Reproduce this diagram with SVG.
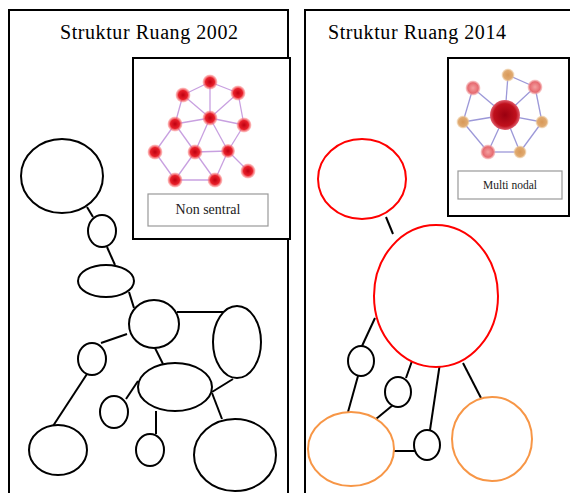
<svg xmlns="http://www.w3.org/2000/svg" width="570" height="493" viewBox="0 0 570 493">
<style>
.frame{fill:none;stroke:#000;stroke-width:2}
.inset{fill:#fff;stroke:#000;stroke-width:2}
.n{fill:#fff;stroke:#000;stroke-width:2}
.r{fill:#fff;stroke:#ff0000;stroke-width:2}
.o{fill:#fff;stroke:#f79646;stroke-width:2}
.c line{stroke:#000;stroke-width:2}
.title{font-family:"Liberation Serif",serif;font-size:20px;fill:#000}
.lab{fill:#fff;stroke:#999;stroke-width:1.2}
.labt{font-family:"Liberation Serif",serif;fill:#222;text-anchor:middle}
.e1 line{stroke:#c8a0e0;stroke-width:1.3}
.e2 line{stroke:#9c98d8;stroke-width:1.3}
</style>
<defs>
<radialGradient id="gr"><stop offset="0" stop-color="#c00010"/><stop offset="0.6" stop-color="#e8202a"/><stop offset="1" stop-color="#f88" stop-opacity="0.4"/></radialGradient>
<radialGradient id="gbig"><stop offset="0" stop-color="#9a0010"/><stop offset="0.75" stop-color="#c0101c"/><stop offset="1" stop-color="#e06070"/></radialGradient>
<radialGradient id="gpk"><stop offset="0" stop-color="#f4a0a0"/><stop offset="0.7" stop-color="#e66a70"/><stop offset="1" stop-color="#f6b0b0" stop-opacity="0.5"/></radialGradient>
<radialGradient id="gtn"><stop offset="0" stop-color="#d89858"/><stop offset="0.7" stop-color="#e0aa70"/><stop offset="1" stop-color="#f0d0a8" stop-opacity="0.5"/></radialGradient>
</defs>
<rect width="570" height="493" fill="#fff"/>

<!-- frames -->
<g id="frame2002"><path class="frame" d="M9,500 V10 H288 V500"/>
<text class="title" x="60" y="39" textLength="178">Struktur Ruang 2002</text></g>
<g id="frame2014"><path class="frame" d="M305,500 V10 H580"/>
<text class="title" x="328" y="39" textLength="178">Struktur Ruang 2014</text></g>

<!-- inset 2002 -->
<g id="inset2002">
<rect class="inset" x="133" y="58" width="157" height="181"/>
<g class="e1">
<line x1="210" y1="82" x2="183" y2="95"/><line x1="210" y1="82" x2="238" y2="93"/><line x1="210" y1="82" x2="210" y2="118"/>
<line x1="183" y1="95" x2="210" y2="118"/><line x1="238" y1="93" x2="210" y2="118"/><line x1="183" y1="95" x2="175" y2="124"/>
<line x1="238" y1="93" x2="244" y2="125"/><line x1="210" y1="118" x2="175" y2="124"/><line x1="210" y1="118" x2="244" y2="125"/>
<line x1="210" y1="118" x2="195" y2="152"/><line x1="210" y1="118" x2="228" y2="151"/><line x1="175" y1="124" x2="155" y2="152"/>
<line x1="175" y1="124" x2="195" y2="152"/><line x1="244" y1="125" x2="228" y2="151"/><line x1="195" y1="152" x2="228" y2="151"/>
<line x1="155" y1="152" x2="175" y2="180"/><line x1="195" y1="152" x2="175" y2="180"/><line x1="195" y1="152" x2="215" y2="180"/>
<line x1="175" y1="180" x2="215" y2="180"/><line x1="228" y1="151" x2="248" y2="171"/><line x1="228" y1="151" x2="215" y2="180"/>
</g>
<g fill="url(#gr)">
<circle cx="210" cy="82" r="7.5"/><circle cx="183" cy="95" r="7.5"/><circle cx="238" cy="93" r="7.5"/><circle cx="210" cy="118" r="7.5"/>
<circle cx="175" cy="124" r="7.5"/><circle cx="244" cy="125" r="7.5"/><circle cx="155" cy="152" r="7.5"/><circle cx="195" cy="152" r="7.5"/>
<circle cx="228" cy="151" r="7"/><circle cx="175" cy="180" r="7.5"/><circle cx="215" cy="180" r="7.5"/><circle cx="248" cy="171" r="7.5"/>
</g>
<rect class="lab" x="148" y="194" width="120" height="32"/>
<text class="labt" x="208" y="214" font-size="14">Non sentral</text>
</g>

<!-- inset 2014 -->
<g id="inset2014">
<rect class="inset" x="448" y="58" width="121" height="158"/>
<g class="e2">
<line x1="505" y1="115" x2="508" y2="75"/><line x1="505" y1="115" x2="473" y2="88"/><line x1="505" y1="115" x2="535" y2="87"/>
<line x1="505" y1="115" x2="463" y2="122"/><line x1="505" y1="115" x2="542" y2="122"/><line x1="505" y1="115" x2="488" y2="152"/>
<line x1="505" y1="115" x2="520" y2="152"/><line x1="508" y1="75" x2="535" y2="87"/><line x1="473" y1="88" x2="463" y2="122"/>
<line x1="463" y1="122" x2="488" y2="152"/><line x1="488" y1="152" x2="520" y2="152"/><line x1="520" y1="152" x2="542" y2="122"/>
<line x1="535" y1="87" x2="542" y2="122"/>
</g>
<circle cx="505" cy="115" r="15" fill="url(#gbig)"/>
<g fill="url(#gpk)"><circle cx="473" cy="88" r="7.5"/><circle cx="535" cy="87" r="7.5"/><circle cx="488" cy="152" r="7.5"/></g>
<g fill="url(#gtn)"><circle cx="508" cy="75" r="6.5"/><circle cx="463" cy="122" r="6.5"/><circle cx="542" cy="122" r="6.5"/><circle cx="520" cy="152" r="6.5"/></g>
<rect class="lab" x="458" y="171" width="104" height="28"/>
<text class="labt" x="510" y="189" font-size="11.5">Multi nodal</text>
</g>

<!-- connectors -->
<g id="connectors" class="c">
<line x1="87" y1="207" x2="93" y2="217"/>
<line x1="107" y1="247" x2="115" y2="265"/>
<line x1="129" y1="292" x2="134" y2="308"/>
<line x1="177" y1="312" x2="224" y2="312"/>
<line x1="127" y1="334" x2="101" y2="343"/>
<line x1="155" y1="348" x2="163" y2="364"/>
<line x1="233" y1="379" x2="212" y2="392"/>
<line x1="87" y1="374" x2="53" y2="426"/>
<line x1="126" y1="399" x2="138" y2="381"/>
<line x1="156" y1="411" x2="156" y2="434"/>
<line x1="212" y1="393" x2="222" y2="419"/>
<line x1="386" y1="217" x2="393" y2="234"/>
<line x1="375" y1="318" x2="362" y2="346"/>
<line x1="358" y1="376" x2="348" y2="412"/>
<line x1="412" y1="361" x2="406" y2="378"/>
<line x1="393" y1="405" x2="376" y2="419"/>
<line x1="440" y1="363" x2="430" y2="430"/>
<line x1="393" y1="451" x2="415" y2="451"/>
<line x1="463" y1="363" x2="481" y2="398"/>
</g>

<!-- 2002 nodes -->
<g id="a1"><ellipse class="n" cx="62" cy="176" rx="41" ry="37"/></g>
<g id="a2"><ellipse class="n" cx="102" cy="231" rx="14" ry="16"/></g>
<g id="a3"><ellipse class="n" cx="106" cy="281" rx="28" ry="16"/></g>
<g id="a4"><ellipse class="n" cx="154" cy="324" rx="25" ry="24"/></g>
<g id="a5"><ellipse class="n" cx="237" cy="342" rx="24" ry="36"/></g>
<g id="a6"><ellipse class="n" cx="92" cy="359" rx="14" ry="16"/></g>
<g id="a7"><ellipse class="n" cx="175" cy="387" rx="37" ry="24"/></g>
<g id="a8"><ellipse class="n" cx="114" cy="412" rx="14" ry="16"/></g>
<g id="a9"><ellipse class="n" cx="58" cy="450" rx="29" ry="25"/></g>
<g id="a10"><ellipse class="n" cx="150" cy="450" rx="14" ry="16"/></g>
<g id="a11"><ellipse class="n" cx="235" cy="455" rx="41" ry="36"/></g>

<!-- 2014 nodes -->
<g id="b1"><ellipse class="r" cx="362" cy="179" rx="44" ry="40"/></g>
<g id="b2"><ellipse class="r" cx="436" cy="296" rx="62" ry="71"/></g>
<g id="b3"><ellipse class="n" cx="361" cy="361" rx="13" ry="15"/></g>
<g id="b4"><ellipse class="n" cx="398" cy="392" rx="13" ry="15"/></g>
<g id="b5"><ellipse class="n" cx="427" cy="445" rx="13" ry="15"/></g>
<g id="b6"><ellipse class="o" cx="351" cy="449" rx="43" ry="37"/></g>
<g id="b7"><ellipse class="o" cx="492" cy="439" rx="40" ry="42"/></g>
</svg>
